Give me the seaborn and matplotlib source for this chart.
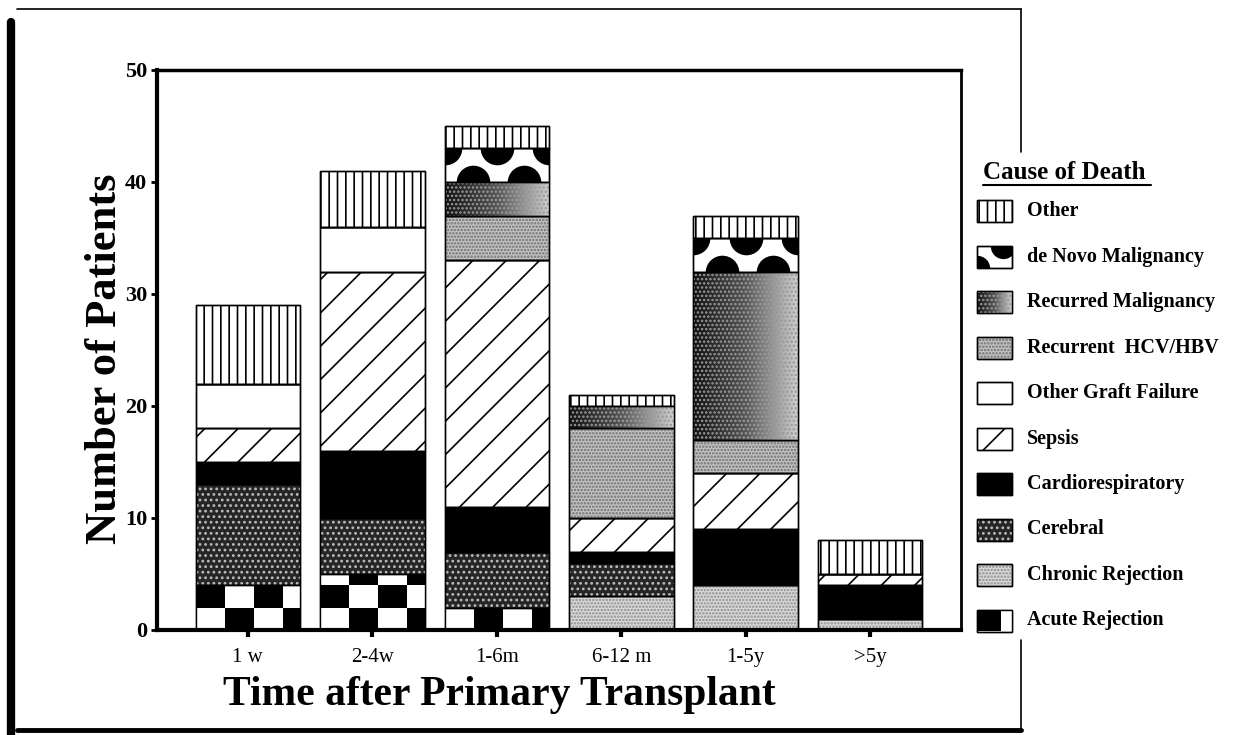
import numpy as np
import pandas as pd
import seaborn as sns
import matplotlib
matplotlib.use("Agg")
from matplotlib import pyplot as plt
from matplotlib.patches import Rectangle
from matplotlib.colors import LinearSegmentedColormap

# data (stack order bottom -> top)
times = ["1 w", "2-4w", "1-6m", "6-12 m", "1-5y", ">5y"]
causes = ["Acute Rejection", "Chronic Rejection", "Cerebral", "Cardiorespiratory",
          "Sepsis", "Other Graft Failure", "Recurrent  HCV/HBV",
          "Recurred Malignancy", "de Novo Malignancy", "Other"]
acute = [4, 5, 2, 0, 0, 0]
chronic = [0, 0, 0, 3, 4, 1]
cerebral = [9, 5, 5, 3, 0, 0]
cardio = [2, 6, 4, 1, 5, 3]
sepsis = [3, 16, 22, 3, 5, 1]
graft = [4, 4, 0, 0, 0, 0]
hcv = [0, 0, 4, 8, 3, 0]
recurred = [0, 0, 3, 2, 15, 0]
denovo = [0, 0, 3, 0, 3, 0]
other = [7, 5, 2, 1, 2, 3]
counts = [acute, chronic, cerebral, cardio, sepsis, graft, hcv, recurred, denovo, other]

styles = {
    "Other": dict(facecolor="white", hatch="||"),
    "de Novo Malignancy": dict(facecolor="white"),
    "Recurred Malignancy": dict(facecolor="#777777"),
    "Recurrent  HCV/HBV": dict(facecolor="#c2c2c2"),
    "Other Graft Failure": dict(facecolor="white"),
    "Sepsis": dict(facecolor="white", hatch="/"),
    "Cardiorespiratory": dict(facecolor="black"),
    "Cerebral": dict(facecolor="#262626"),
    "Chronic Rejection": dict(facecolor="#dadada"),
    "Acute Rejection": dict(facecolor="white"),
}
# extra dot texture drawn over some fills
dots = {
    "Recurrent  HCV/HBV": ("#6e6e6e", "....."),
    "Chronic Rejection": ("#8c8c8c", "....."),
    "Cerebral": ("#bdbdbd", "..."),
    "Recurred Malignancy": ("#9a9a9a", "...."),
}

sns.set_style("white")
plt.rcParams["font.family"] = ["Liberation Serif", "DejaVu Serif"]
plt.rcParams["hatch.linewidth"] = 1.2
for key in ["text.color", "axes.labelcolor", "xtick.color", "ytick.color"]:
    plt.rcParams[key] = "black"

rows = []
for cause, vals in zip(causes, counts):
    for t, v in zip(times, vals):
        rows.append({"time": t, "cause": cause, "count": v})
df = pd.DataFrame(rows)

fig = plt.figure(figsize=(12.42, 7.35), dpi=100)
ax = fig.add_axes([0.1264, 0.1429, 0.6474, 0.7619])

grad_cmap = LinearSegmentedColormap.from_list("grad", ["#111111", "#555555", "#cfcfcf"])

base = np.zeros(len(times))
seg = {}
for cause, vals in zip(causes, counts):
    sub = df[df["cause"] == cause]
    n0 = len(ax.patches)
    sns.barplot(data=sub, x="time", y="count", order=times, bottom=base.copy(),
                width=0.84, errorbar=None, edgecolor="black", linewidth=1.0,
                color=styles[cause]["facecolor"], saturation=1, ax=ax, **styles[cause])
    seg[cause] = ax.patches[n0:]
    base += np.array(vals)

ax.set_xlim(-0.73, 5.73)
ax.set_ylim(0, 50)
ax.set_yticks([0, 10, 20, 30, 40, 50])


def px_height(a, p):
    y0 = a.transData.transform((0, p.get_y()))[1]
    y1 = a.transData.transform((0, p.get_y() + p.get_height()))[1]
    return abs(y1 - y0)


def decorate(a, p, cause, cell_h, legend=False):
    x0, y0, w, h = p.get_x(), p.get_y(), p.get_width(), p.get_height()
    if cause == "Recurred Malignancy":
        grad = np.linspace(0, 1, 80).reshape(1, -1)
        im = a.imshow(grad, cmap=grad_cmap, extent=(x0, x0 + w, y0, y0 + h),
                      origin="lower", aspect="auto", zorder=2, interpolation="bilinear")
        im.set_clip_path(p)
    elif cause == "Acute Rejection":
        if legend:
            board = np.array([[1.0, 0.0]])
            ext = (x0, x0 + w * 1.35, y0, y0 + h)
        else:
            nrow = int(np.ceil(h / cell_h))
            board = (np.add.outer(np.arange(nrow), np.arange(5)) % 2).astype(float)
            cw = w / 3.6
            ext = (x0, x0 + 5 * cw, y0, y0 + nrow * cell_h)
        im = a.imshow(board, cmap="binary", vmin=0, vmax=1, extent=ext, origin="lower",
                      aspect="auto", zorder=2, interpolation="nearest")
        im.set_clip_path(p)
    elif cause == "de Novo Malignancy":
        hp = px_height(a, p)
        d = hp * (1.15 if legend else 1.0)
        s = (d * 72 / fig.dpi) ** 2
        if legend:
            xs = [x0, x0 + w * 0.75]
            ys = [y0 + h, y0]
        else:
            xs = [x0, x0 + w * 0.5, x0 + w, x0 + w * 0.27, x0 + w * 0.76]
            ys = [y0 + h, y0 + h, y0 + h, y0, y0]
        sc = a.scatter(xs, ys, s=s, c="black", marker="o", linewidths=0, zorder=2)
        sc.set_clip_path(p)
    if cause in dots:
        dc, hp_ = dots[cause]
        a.add_patch(Rectangle((x0, y0), w, h, fill=False, edgecolor=dc,
                              hatch=hp_, linewidth=0, zorder=2.2))
    a.add_patch(Rectangle((x0, y0), w, h, fill=False, edgecolor="black",
                          linewidth=1.0, zorder=4))


for cause in causes:
    for p in seg[cause]:
        if p.get_height() > 0:
            decorate(ax, p, cause, 2.0)

ax.set_xlim(-0.73, 5.73)
ax.set_ylim(0, 50)

for side, lw in [("left", 3.0), ("bottom", 3.0), ("top", 2.5), ("right", 2.0)]:
    ax.spines[side].set_visible(True)
    ax.spines[side].set_linewidth(lw)
    ax.spines[side].set_color("black")

ax.tick_params(axis="y", direction="out", length=4, width=2, pad=3, left=True)
ax.tick_params(axis="x", direction="out", length=5, width=3, pad=8, bottom=True)
ax.set_yticklabels([str(v) for v in ax.get_yticks().astype(int)],
                   fontsize=16, fontweight="bold")
ax.set_xticks(range(len(times)))
ax.set_xticklabels(times, fontsize=15)

ax.set_xlabel("Time after Primary Transplant", fontsize=30, fontweight="bold")
ax.xaxis.set_label_coords(0.4256, -0.117)
ax.xaxis.label.set_verticalalignment("center")
ax.set_ylabel("Number of Patients", fontsize=32, fontweight="bold")
ax.yaxis.set_label_coords(-0.0645, 0.485)
ax.yaxis.label.set_verticalalignment("center")

# page frame + legend in pixel coordinates
ov = fig.add_axes([0, 0, 1, 1], zorder=-1)
ov.set_xlim(0, 1242)
ov.set_ylim(735, 0)
ov.axis("off")

ov.plot([17, 1021], [9, 9], color="black", lw=1.2)
ov.plot([1021, 1021], [9, 152], color="black", lw=1.2)
ov.plot([1021, 1021], [640, 729], color="black", lw=1.2)
ov.plot([17, 1021], [730, 730], color="black", lw=3.5)
ov.plot([11, 11], [22, 735], color="black", lw=6)

ov.text(983, 172, "Cause of Death", fontsize=18, fontweight="bold", va="center", ha="left")
ov.plot([983, 1151], [185, 185], color="black", lw=1.5)

sw_x, sw_w, sw_h = 977, 35, 22
for i, cause in enumerate(causes[::-1]):
    yc = 211 + i * 45.5
    r = Rectangle((sw_x, yc - sw_h / 2), sw_w, sw_h, edgecolor="black", linewidth=1.0,
                  **styles[cause])
    ov.add_patch(r)
    decorate(ov, r, cause, sw_h, legend=True)
    ov.text(sw_x + 50, yc, cause, fontsize=14.5, fontweight="bold", va="center", ha="left")

ov.set_xlim(0, 1242)
ov.set_ylim(735, 0)

fig.savefig("out.png", dpi=100)
